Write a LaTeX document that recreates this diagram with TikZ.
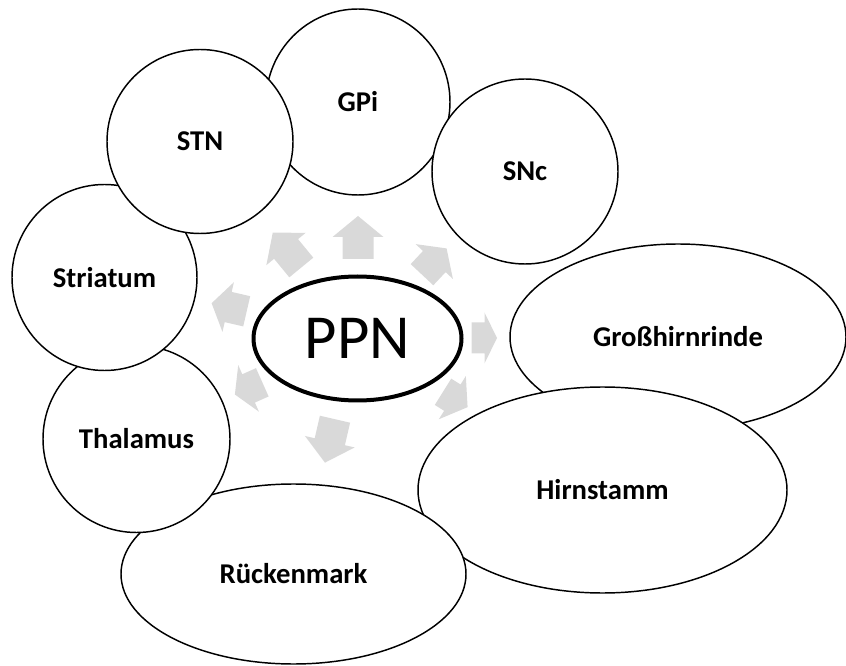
\documentclass[tikz,border=0pt]{standalone}
\usepackage{fontspec}
\setmainfont{Carlito}
\usetikzlibrary{shapes.geometric}

\tikzset{
  % white region bubble, size given in pixels (width, height)
  region/.style 2 args={ellipse, draw=black, line width=1.1pt, fill=white,
    inner sep=0pt, minimum width={#1*0.75pt}, minimum height={#2*0.75pt},
    font=\fontsize{21.5}{24}\selectfont\bfseries, text=black},
  hub/.style={ellipse, draw=black, line width=3pt, fill=white, inner sep=0pt,
    minimum width={208*0.75pt}, minimum height={124*0.75pt},
    font=\fontsize{47}{52}\selectfont, text=black},
  fatarrow/.style={fill=gray!30, draw=none}
}

% block arrow: tail at #1, direction #2, length #3, head length #4
\newcommand{\fatarrowat}[4]{%
  \begin{scope}[shift={#1}, rotate=#2]
    \path[fatarrow] (0,-15.5) -- ({#3-#4},-15.5) -- ({#3-#4},-25.5) -- (#3,0)
      -- ({#3-#4},25.5) -- ({#3-#4},15.5) -- (0,15.5) -- cycle;
  \end{scope}}

\begin{document}
\begin{tikzpicture}[x=0.75pt, y=-0.75pt]
  \useasboundingbox (0,0) rectangle (846,666);

  % outer ring of regions, back to front
  \node[region={336}{186}] (gh)  at (678,337)   {Großhirnrinde};
  \node[region={369}{206}] (hs)  at (602.5,490) {Hirnstamm};
  \node[region={345}{180}] (rm)  at (293.5,574) {Rückenmark};
  \node[region={187}{187}] (th)  at (136.5,439) {Thalamus};
  \node[region={185}{186}] (st)  at (104.5,277.5) {Striatum};
  \node[region={184}{186}] (gpi) at (358,102)   {GPi};
  \node[region={186}{184}] (stn) at (200,141.5) {STN};
  \node[region={186}{185}] (snc) at (525,171.5) {SNc};

  % central nucleus
  \node[hub] (ppn) at (357.5,338.5) {PPN};

  % projections from the PPN
  \fatarrowat{(358,259)}{90}{43}{21}
  \fatarrowat{(301.3,267.5)}{129.4}{45}{21}
  \fatarrowat{(422,274.7)}{46.9}{36}{18}
  \fatarrowat{(246.7,311.3)}{167}{36}{17}
  \fatarrowat{(471.5,338)}{0}{25.5}{12.5}
  \fatarrowat{(443,391.8)}{-32}{29}{18}
  \fatarrowat{(335,419.2)}{257}{44.6}{21.5}
  \fatarrowat{(262.3,382.3)}{204}{30}{15}
\end{tikzpicture}
\end{document}
